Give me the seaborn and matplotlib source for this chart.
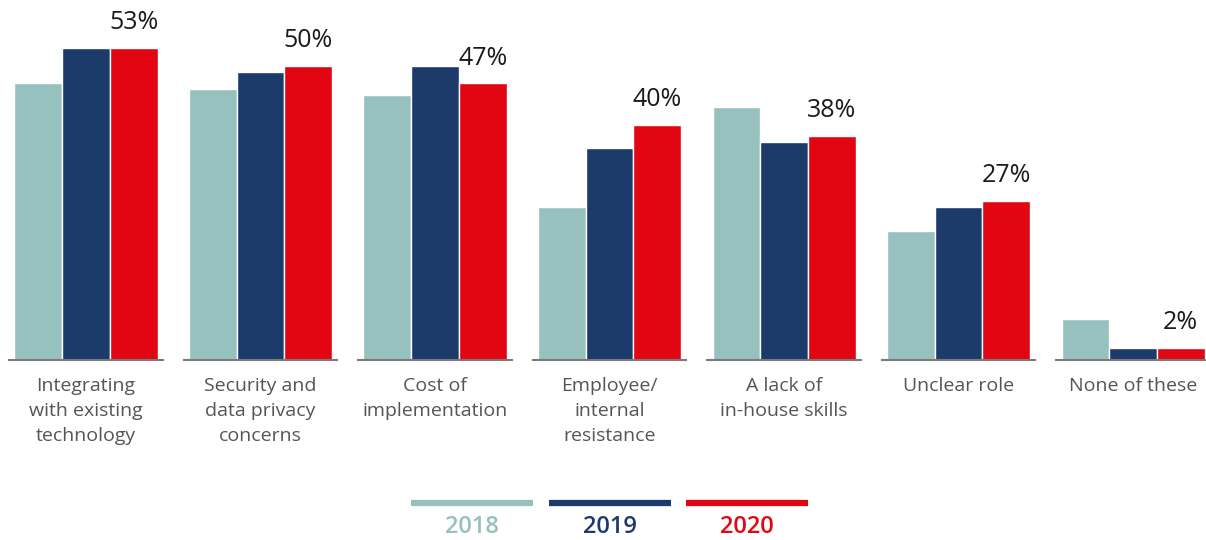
import matplotlib
matplotlib.use('Agg')

import pandas as pd
import matplotlib.pyplot as plt
import seaborn as sns
from matplotlib.lines import Line2D

# datos
categorias = ['Integrating\nwith existing\ntechnology', 'Security and\ndata privacy\nconcerns',
              'Cost of\nimplementation', 'Employee/\ninternal\nresistance',
              'A lack of\nin-house skills', 'Unclear role', 'None of these']
anios = ['2018', '2019', '2020']
v2018 = [47, 46, 45, 26, 43, 22, 7]
v2019 = [53, 49, 50, 36, 37, 26, 2]
v2020 = [53, 50, 47, 40, 38, 27, 2]
colores = ['#97C1BE', '#1C3A6A', '#E20613']

df = pd.DataFrame({
    'categoria': categorias * 3,
    'anio': [a for a in anios for _ in categorias],
    'valor': v2018 + v2019 + v2020,
})

sns.set_style('white')
plt.rcParams['font.family'] = ['Open Sans', 'DejaVu Sans']

fig = plt.figure(figsize=(12.06, 5.40), dpi=100)
ax = fig.add_axes([0, 180 / 540, 1, 353 / 540])

sns.barplot(data=df, x='categoria', y='valor', hue='anio', palette=colores,
            width=0.82, saturation=1, edgecolor='white', linewidth=1,
            legend=False, ax=ax)

ax.set_xlim(-0.493, 6.418)
ax.set_ylim(0, 60)

# linea base por grupo
for i in range(len(categorias)):
    ax.hlines(0, i - 0.445, i + 0.445, color='#7a7a7a', linewidth=1.5, clip_on=False)

# etiquetas 2020
ancho = 0.82 / 3
for i, v in enumerate(v2020):
    ax.text(i + ancho, v + 2.2, f'{v}%', ha='center', va='bottom', fontsize=18, color='#1a1a1a')

ax.set_xlabel('')
ax.set_ylabel('')
ax.set_yticks([])
ax.tick_params(axis='x', length=0, pad=12, labelsize=14, labelcolor='#555555')
for lbl in ax.get_xticklabels():
    lbl.set_linespacing(1.5)
for s in ax.spines.values():
    s.set_visible(False)

# leyenda manual
centros = [472 / 1206, 610 / 1206, 747 / 1206]
for c, a, col in zip(centros, anios, colores):
    fig.add_artist(Line2D([c - 61 / 1206, c + 61 / 1206], [1 - 503 / 540] * 2,
                          color=col, linewidth=4.5, solid_capstyle='butt'))
    fig.text(c, 1 - 527 / 540, a, ha='center', va='center', fontsize=17,
             fontweight='semibold', color=col)

plt.savefig('out.png', dpi=100)
